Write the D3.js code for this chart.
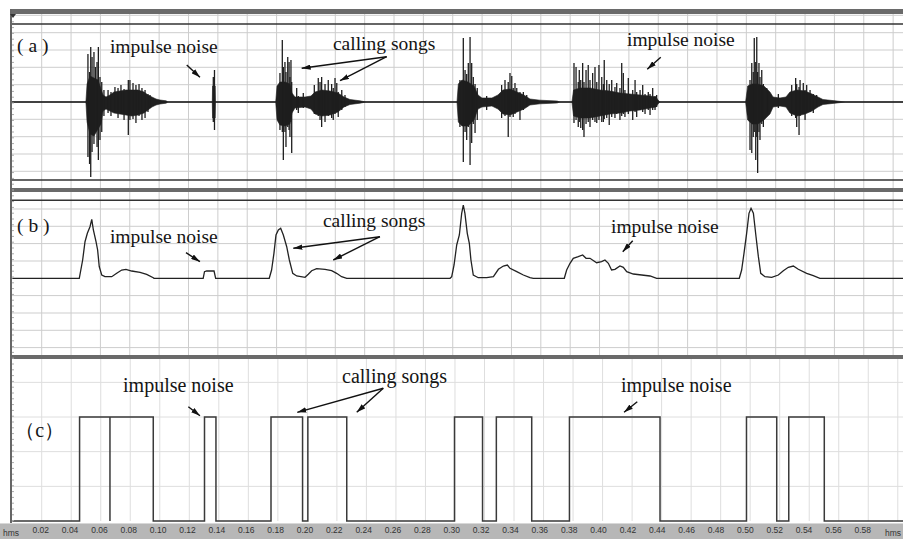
<!DOCTYPE html>
<html><head><meta charset="utf-8">
<script src="https://cdn.jsdelivr.net/npm/d3@7"></script>
<style>html,body{margin:0;padding:0;background:#fff;}svg{display:block;}</style>
</head><body>
<svg id="c" width="903" height="539"></svg>
<script>
// ---------- DATA ----------
// time axis tick labels (s)
const tickTimes = [0.02,0.04,0.06,0.08,0.10,0.12,0.14,0.16,0.18,0.20,0.22,0.24,0.26,0.28,0.30,0.32,0.34,0.36,0.38,0.40,0.42,0.44,0.46,0.48,0.50,0.52,0.54,0.56,0.58];
const gridTimes = tickTimes.concat([0.60]);
const ampGrid = [-86.7,-69.3,-52,-34.7,-17.3,17.3,34.7,52,69.3,86.7];
const levelGrid = [0.333,0.667,1,1.333];

// (a) waveform: dense core [t, upper, lower]
const waveCore = [
 [0.0000,0,0],[0.0500,0,0],[0.0502,2,-2],[0.0509,18,-20],[0.0529,26,-32],[0.0556,24,-34],[0.0584,22,-27],[0.0604,13,-22],[0.0618,7,-9],[0.0638,5,-7],[0.0665,7,-9],[0.0692,10,-11],[0.0733,11,-12],[0.0774,12,-13],[0.0815,12,-14],[0.0856,12,-13],[0.0897,10,-11],[0.0924,7,-8],[0.0951,5,-5],[0.0979,3,-3],[0.1006,2,-2],[0.1047,1.2,-1.2],[0.1060,0,0],
 [0.1362,0,0],[0.1364,16,-16],[0.1382,16,-16],[0.1384,0,0],
 [0.1794,0,0],[0.1803,16,-18],[0.1823,20,-23],[0.1857,20,-24],[0.1891,18,-22],[0.1905,9,-11],[0.1925,5,-6],[0.1994,5,-5],[0.2034,6,-7],[0.2062,10,-12],[0.2109,12,-14],[0.2164,11,-13],[0.2218,9,-10],[0.2259,5,-5],[0.2300,2.5,-2.5],[0.2368,1.2,-1.2],[0.2409,0,0],
 [0.3029,0,0],[0.3038,18,-20],[0.3063,22,-24],[0.3104,20,-24],[0.3145,16,-18],[0.3172,7,-7],[0.3199,4,-5],[0.3267,4,-4],[0.3308,7,-7],[0.3342,12,-12],[0.3390,13,-13],[0.3438,10,-10],[0.3485,7,-7],[0.3526,3,-3],[0.3594,1.8,-1.8],[0.3710,1,-1],[0.3731,0,0],
 [0.3812,0,0],[0.3823,12,-14],[0.3867,14,-16],[0.3935,14,-16],[0.4003,12,-14],[0.4071,11,-12],[0.4139,9,-11],[0.4207,8,-9],[0.4276,7,-8],[0.4344,6,-6],[0.4385,5,-5],[0.4398,2,-2],[0.4412,0,0],
 [0.4995,0,0],[0.5009,16,-18],[0.5039,18,-22],[0.5079,18,-22],[0.5120,16,-18],[0.5161,10,-12],[0.5182,5,-5],[0.5229,4,-4],[0.5270,5,-5],[0.5297,10,-11],[0.5345,12,-14],[0.5400,11,-12],[0.5447,8,-9],[0.5488,5,-5],[0.5522,2.5,-2.5],[0.5604,1.2,-1.2],[0.5672,0,0],[0.6100,0,0]
];
// (a) waveform: individual peaks [t, top, bottom]
const waveSpikes = [
 [0.0515,48,-55],[0.0526,30,-62],[0.0534,55,-75],[0.0543,45,-50],[0.0556,50,-42],[0.0566,35,-30],[0.0577,40,-45],[0.0586,55,-58],[0.0597,25,-38],[0.0609,20,-30],[0.0624,12,-14],[0.0652,12,-11],[0.0672,10,-14],[0.0699,15,-10],[0.0720,14,-16],[0.0740,17,-12],[0.0761,13,-18],[0.0790,22,-33],[0.0801,22,-18],[0.0822,19,-17],[0.0842,17,-21],[0.0863,18,-14],[0.0883,14,-18],[0.0904,12,-16],[0.0924,8,-10],[0.0938,7,-6],
 [0.1369,25,-20],[0.1377,32,-28],
 [0.1823,29,-28],[0.1839,62,-30],[0.1846,35,-58],[0.1857,40,-30],[0.1864,30,-45],[0.1876,45,-25],[0.1885,40,-28],[0.1891,25,-35],[0.1898,42,-20],[0.1903,20,-51],[0.1937,14,-8],[0.1948,6,-11],[0.1982,9,-6],[0.2057,17,-12],[0.2084,24,-14],[0.2096,20,-18],[0.2107,25,-25],[0.2130,18,-20],[0.2152,22,-14],[0.2175,18,-16],[0.2186,14,-18],[0.2198,24,-12],[0.2210,19,-10],[0.2220,10,-15],[0.2244,12,-8],[0.2266,7,-5],
 [0.3049,22,-25],[0.3072,64,-60],[0.3084,32,-30],[0.3095,28,-38],[0.3106,39,-25],[0.3118,65,-63],[0.3129,39,-41],[0.3140,25,-22],[0.3152,18,-31],[0.3167,14,-18],[0.3231,6,-8],[0.3333,17,-16],[0.3356,22,-14],[0.3378,20,-35],[0.3390,29,-15],[0.3402,26,-12],[0.3412,14,-15],[0.3424,19,-12],[0.3436,14,-10],[0.3458,10,-18],[0.3481,10,-8],[0.3504,7,-5],
 [0.3826,39,-21],[0.3840,35,-18],[0.3855,20,-25],[0.3862,32,-20],[0.3872,22,-26],[0.3885,39,-28],[0.3894,20,-35],[0.3908,32,-22],[0.3923,37,-20],[0.3935,22,-25],[0.3953,29,-18],[0.3969,35,-20],[0.3981,20,-21],[0.3996,37,-18],[0.4015,25,-20],[0.4026,18,-20],[0.4032,42,-17],[0.4049,22,-16],[0.4066,18,-23],[0.4083,22,-15],[0.4105,15,-16],[0.4117,19,-12],[0.4139,14,-18],[0.4151,39,-14],[0.4162,29,-12],[0.4173,12,-15],[0.4196,24,-12],[0.4226,12,-18],[0.4242,22,-10],[0.4253,10,-15],[0.4276,12,-8],[0.4294,17,-10],[0.4310,8,-12],[0.4332,10,-8],[0.4344,8,-13],[0.4362,14,-8],[0.4378,6,-8],[0.4389,7,-5],
 [0.5025,22,-48],[0.5037,39,-51],[0.5047,30,-35],[0.5054,64,-30],[0.5064,40,-58],[0.5071,65,-35],[0.5077,30,-71],[0.5086,39,-30],[0.5093,25,-38],[0.5105,32,-22],[0.5116,18,-25],[0.5139,14,-12],[0.5150,10,-11],[0.5218,8,-6],[0.5309,17,-14],[0.5336,24,-16],[0.5343,18,-25],[0.5359,15,-33],[0.5366,22,-14],[0.5388,19,-12],[0.5400,12,-18],[0.5411,17,-10],[0.5434,12,-10],[0.5456,8,-11],[0.5479,7,-5]
];
// (b) energy envelope [t, value]
const envelope = [
 [0.0000,0],[0.0456,0],[0.0479,18.3],[0.0495,36.6],[0.0511,45],[0.0529,51.6],[0.0541,59],[0.0552,48.3],[0.0570,36.6],[0.0581,28.3],[0.0592,11.6],[0.0609,3.3],[0.0631,1.6],[0.0677,1.6],[0.0711,5],[0.0745,8.3],[0.0774,9],[0.0813,7.3],[0.0870,6],[0.0915,4],[0.0960,0.6],[0.0965,0],
 [0.1300,0],[0.1309,6.6],[0.1324,7.3],[0.1374,7.3],[0.1385,0],
 [0.1750,0],[0.1766,8.3],[0.1782,25],[0.1796,43.3],[0.1812,48.3],[0.1828,50],[0.1846,43.3],[0.1869,31.6],[0.1887,18.3],[0.1910,5],[0.1937,2.3],[0.1994,1],[0.2016,4],[0.2039,7.6],[0.2073,9.6],[0.2130,9],[0.2175,7.6],[0.2209,5],[0.2243,1.6],[0.2278,0],
 [0.2982,0],[0.2993,1.6],[0.3009,13.3],[0.3027,33.3],[0.3045,43.3],[0.3061,65],[0.3072,73.3],[0.3083,65],[0.3099,45],[0.3113,35],[0.3124,18.3],[0.3140,3.3],[0.3174,0.6],[0.3231,0.6],[0.3277,1.6],[0.3311,9],[0.3345,12.3],[0.3372,13.3],[0.3390,10],[0.3436,6.6],[0.3481,3.3],[0.3526,0.6],[0.3549,0],
 [0.3760,0],[0.3776,8.3],[0.3799,15],[0.3821,20],[0.3855,21.6],[0.3885,23.3],[0.3908,20],[0.3935,20],[0.3980,15.6],[0.4014,16.6],[0.4037,18.3],[0.4060,15],[0.4082,8.3],[0.4105,9],[0.4139,12.3],[0.4162,11],[0.4185,6.6],[0.4230,4.3],[0.4287,3.3],[0.4344,2.3],[0.4389,0],
 [0.4952,0],[0.4968,8.3],[0.4984,25],[0.5002,45],[0.5018,65],[0.5032,70],[0.5048,65],[0.5066,41.6],[0.5082,21.6],[0.5098,5],[0.5127,1.6],[0.5173,1],[0.5218,3.3],[0.5252,7.6],[0.5286,11],[0.5320,12.3],[0.5354,9],[0.5411,5],[0.5456,2.6],[0.5501,0],[0.6100,0]
];
// (c) detection pulses [start, end]
const pulses = [[0.0458,0.0665],[0.0665,0.0960],[0.1309,0.1387],[0.1762,0.1977],[0.2013,0.2278],[0.3012,0.3203],[0.3297,0.3538],[0.3795,0.4412],[0.5001,0.5207],[0.5289,0.5531]];

// annotations: panel, text, [t, value], size
const labels = [
 ["a","( a )",[0.0032,50],19.5],["a","impulse noise",[0.0665,49],19.5],["a","calling songs",[0.2184,52],19.5],["a","impulse noise",[0.4187,56.5],19.5],
 ["b","( b )",[0.0032,46.3],19.5],["b","impulse noise",[0.0665,35],19.5],["b","calling songs",[0.2116,51.6],19.5],["b","impulse noise",[0.4078,45.6],19.5],
 ["c","（c）",[0.0020,0.808],20],["c","impulse noise",[0.0754,1.243],20],["c","calling songs",[0.2246,1.324],20],["c","impulse noise",[0.4146,1.243],20]
];
// arrows: panel, from [t, value], to [t, value]
const arrows = [
 ["a",[0.1188,37],[0.1278,24.7]],["a",[0.2550,45.3],[0.1971,33.7]],["a",[0.2550,45.3],[0.2232,21.3]],["a",[0.4417,44.7],[0.4325,32.7]],
 ["b",[0.1183,25.6],[0.1278,16.6]],["b",[0.2504,41.6],[0.1914,30]],["b",[0.2504,41.6],[0.2186,18.3]],["b",[0.4226,37.6],[0.4158,26.6]],
 ["c",[0.1199,1.099],[0.1278,1.0125]],["c",[0.2527,1.276],[0.1941,1.045]],["c",[0.2527,1.276],[0.2346,1.045]],["c",[0.4257,1.147],[0.4167,1.045]]
];

// ---------- DRAW ----------
const svg = d3.select("#c");
const x = d3.scaleLinear().domain([0,0.6]).range([12.34, 12.34+1468*0.6]);
const ys = {
  a: d3.scaleLinear().domain([-78,78]).range([180,24]),
  b: d3.scaleLinear().domain([-78,78]).range([356.3,200.3]),
  c: d3.scaleLinear().domain([0,1.5]).range([521,365])
};
const X0 = 12, X1 = 903;

svg.append("rect").attr("width",903).attr("height",539).attr("fill","#fff");

const defs = svg.append("defs");
defs.append("marker").attr("id","ah").attr("viewBox","0 0 10 6").attr("refX",10).attr("refY",3)
  .attr("markerWidth",9).attr("markerHeight",5.4).attr("markerUnits","userSpaceOnUse").attr("orient","auto")
  .append("path").attr("d","M0,0 L10,3 L0,6 z").attr("fill","#111");

// grids
const g = svg.append("g");
g.selectAll(".vab").data(gridTimes).join("line")
  .attr("x1",d=>x(d)).attr("x2",d=>x(d)).attr("y1",14).attr("y2",355)
  .attr("stroke","#cdcdcd").attr("stroke-width",1);
g.selectAll(".vc").data(gridTimes).join("line")
  .attr("x1",d=>x(d)+(d-0.02)*8).attr("x2",d=>x(d)+(d-0.02)*8).attr("y1",359).attr("y2",521)
  .attr("stroke","#dedede").attr("stroke-width",1);
g.selectAll(".ha").data(ampGrid).join("line")
  .attr("x1",X0).attr("x2",X1).attr("y1",d=>ys.a(d)).attr("y2",d=>ys.a(d))
  .attr("stroke","#cdcdcd");
g.selectAll(".hb").data(ampGrid.filter(d=>ys.b(d)>193 && ys.b(d)<354)).join("line")
  .attr("x1",X0).attr("x2",X1).attr("y1",d=>ys.b(d)).attr("y2",d=>ys.b(d))
  .attr("stroke","#cdcdcd");
g.selectAll(".hc").data(levelGrid).join("line")
  .attr("x1",X0).attr("x2",X1).attr("y1",d=>ys.c(d)).attr("y2",d=>ys.c(d))
  .attr("stroke","#dedede");

// frame lines
[["a",78],["a",-78],["b",78]].forEach(([p,v])=>{
  svg.append("line").attr("x1",X0).attr("x2",X1).attr("y1",ys[p](v)).attr("y2",ys[p](v)).attr("stroke","#333").attr("stroke-width",1.5);
});

// (a) waveform
svg.append("line").attr("x1",X0).attr("x2",X1).attr("y1",ys.a(0)).attr("y2",ys.a(0)).attr("stroke","#333").attr("stroke-width",1.4);
svg.append("path").datum(waveCore)
  .attr("d", d3.area().x(d=>x(d[0])).y0(d=>ys.a(d[2])).y1(d=>ys.a(d[1])))
  .attr("fill","#1f1f1f").attr("stroke","#1f1f1f").attr("stroke-width",0.6);
svg.append("g").selectAll("line").data(waveSpikes).join("line")
  .attr("x1",d=>x(d[0])).attr("x2",d=>x(d[0])).attr("y1",d=>ys.a(d[1])).attr("y2",d=>ys.a(d[2]))
  .attr("stroke","#1e1e1e").attr("stroke-width",1.3);

// (b) envelope
svg.append("path").datum(envelope)
  .attr("d", d3.line().x(d=>x(d[0])).y(d=>ys.b(d[1])))
  .attr("fill","none").attr("stroke","#222").attr("stroke-width",1.3);

// (c) pulses
const pts = [[0,0]];
pulses.forEach(p=>{pts.push([p[0],0],[p[0],1],[p[1],1],[p[1],0]);});
pts.push([0.61,0]);
svg.append("path").datum(pts)
  .attr("d", d3.line().x(d=>x(d[0])).y(d=>ys.c(d[1])))
  .attr("fill","none").attr("stroke","#3a3a3a").attr("stroke-width",1.5);

// separators and border
svg.append("rect").attr("x",10).attr("y",9).attr("width",893).attr("height",5).attr("fill","#6a6a6a");
svg.append("rect").attr("x",10).attr("y",188).attr("width",893).attr("height",4).attr("fill","#6a6a6a");
svg.append("rect").attr("x",10).attr("y",355).attr("width",893).attr("height",4).attr("fill","#6a6a6a");
svg.append("line").attr("x1",11).attr("x2",11).attr("y1",9).attr("y2",523).attr("stroke","#666").attr("stroke-width",2);
const ruler = d3.range(16,522,5.8);
svg.append("g").selectAll("line").data(ruler).join("line")
  .attr("x1",12).attr("x2",14).attr("y1",d=>d).attr("y2",d=>d).attr("stroke","#aaa").attr("stroke-width",1);
svg.append("path").attr("d","M10,14 L16,14 L13,18 z").attr("fill","#333");

// labels
svg.append("g").selectAll("text").data(labels).join("text")
  .attr("x",d=>x(d[2][0])).attr("y",d=>ys[d[0]](d[2][1]))
  .attr("font-family","'Liberation Serif','Times New Roman',serif")
  .attr("font-size",d=>d[3]).attr("fill","#141414").text(d=>d[1]);
svg.append("g").selectAll("line").data(arrows).join("line")
  .attr("x1",d=>x(d[1][0])).attr("y1",d=>ys[d[0]](d[1][1]))
  .attr("x2",d=>x(d[2][0])).attr("y2",d=>ys[d[0]](d[2][1]))
  .attr("stroke","#111").attr("stroke-width",1.4).attr("marker-end","url(#ah)");

// bottom time axis band
svg.append("rect").attr("x",0).attr("y",523).attr("width",903).attr("height",16).attr("fill","#b7b7b7");
svg.append("line").attr("x1",0).attr("x2",903).attr("y1",523.5).attr("y2",523.5).attr("stroke","#d8d8d8");
const ax = svg.append("g").attr("transform","translate(0,525)")
  .call(d3.axisBottom(x).tickValues(tickTimes).tickFormat(d3.format(".2f")).tickSize(0).tickPadding(2));
ax.select(".domain").remove();
ax.selectAll("text").attr("font-family","'Liberation Sans',Arial,sans-serif").attr("font-size",8.5).attr("fill","#333").attr("dx",-1.5);
svg.append("text").attr("x",3).attr("y",535.5).attr("font-family","'Liberation Sans',Arial,sans-serif").attr("font-size",8.5).attr("fill","#333").text("hms");
svg.append("text").attr("x",885).attr("y",535.5).attr("font-family","'Liberation Sans',Arial,sans-serif").attr("font-size",8.5).attr("fill","#333").text("hms");
</script>
</body></html>
